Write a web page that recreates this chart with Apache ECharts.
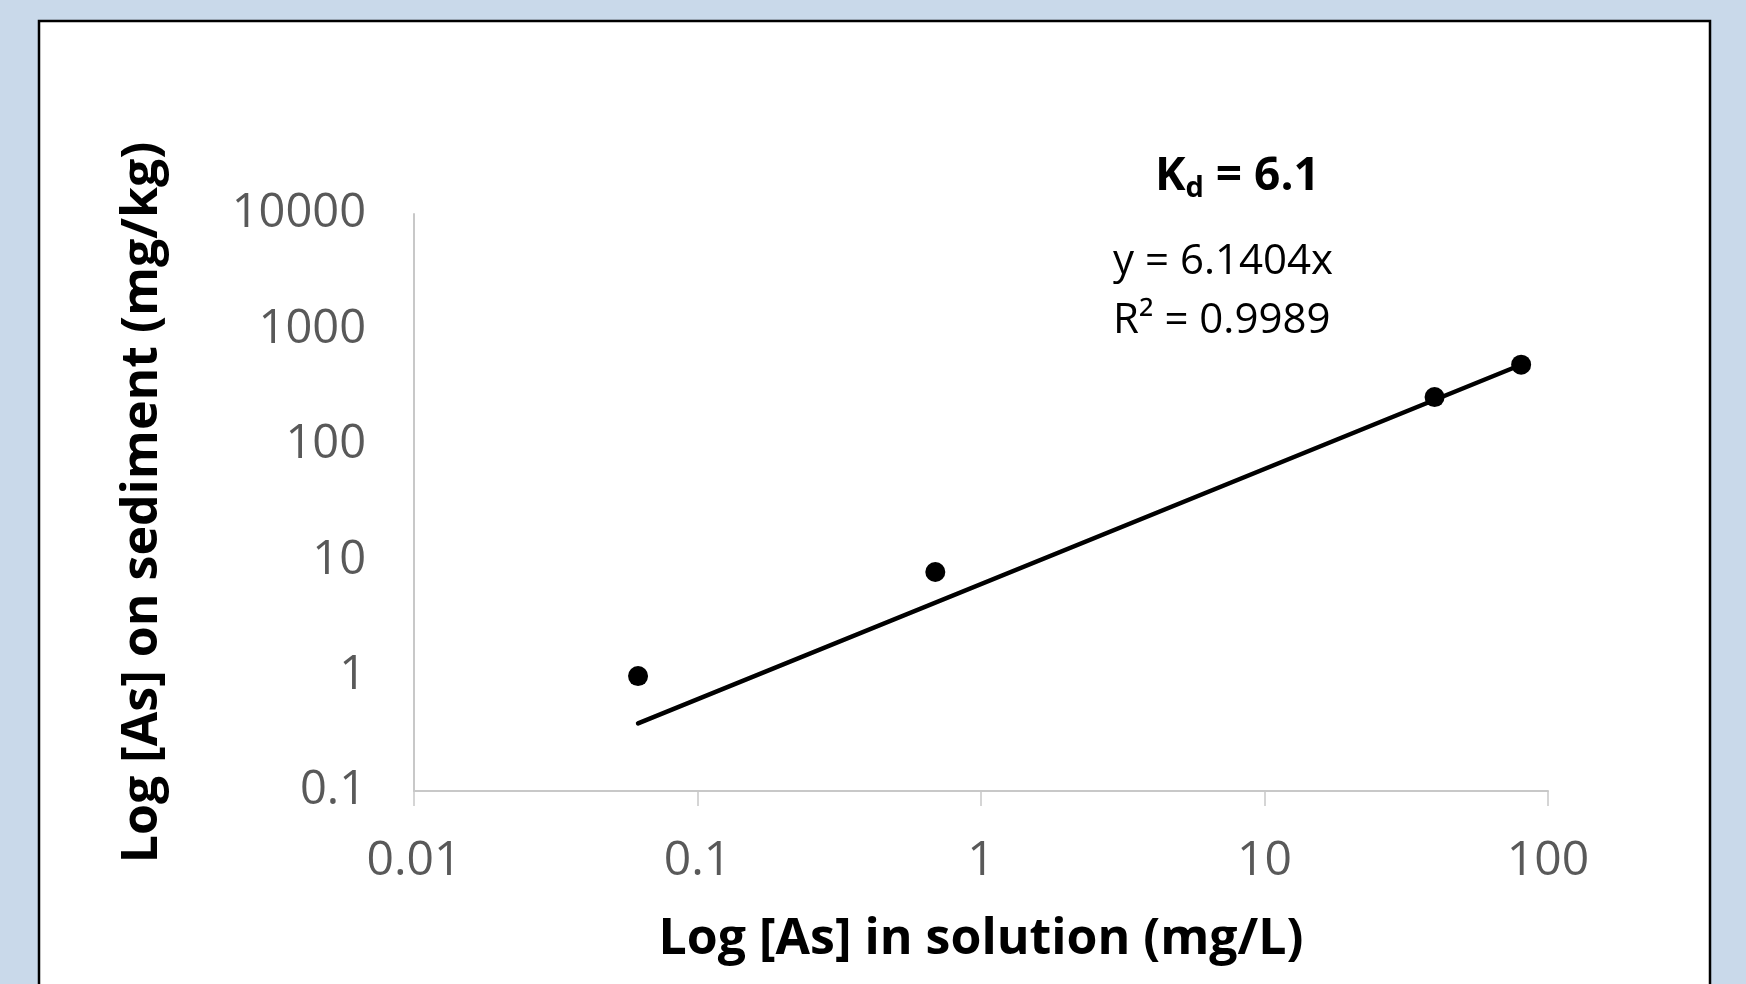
<!DOCTYPE html>
<html>
<head>
<meta charset="utf-8">
<script src="https://cdn.jsdelivr.net/npm/echarts@6/dist/echarts.min.js"></script>
<style>
html, body { margin: 0; padding: 0; background: #c9d9ea; }
#main { width: 1746px; height: 984px; }
</style>
</head>
<body>
<div id="main"></div>
<script>
// values
var solution = [0.0617, 0.69, 39.8, 80.4];   // mg/L
var sediment = [0.99, 7.9, 259, 495];        // mg/kg
var trendX = [0.0617, 80.4];
var trendY = [0.385, 494];
var eqText = 'y = 6.1404x';
var r2Text = 'R\u00b2 = 0.9989';

var font = '"Open Sans", "Noto Sans", sans-serif';

var points = solution.map(function (x, i) { return [x, sediment[i]]; });
var trend = trendX.map(function (x, i) { return [x, trendY[i]]; });

function fmt(v) { return String(parseFloat(v.toPrecision(3))); }

var chart = echarts.init(document.getElementById('main'), null, {renderer: 'canvas'});
var option = {
  backgroundColor: '#c9d9ea',
  animation: false,
  textStyle: {fontFamily: font},
  graphic: [
    {
      type: 'rect', z: -10,
      shape: {x: 39, y: 21, width: 1671, height: 1000},
      style: {fill: '#ffffff', stroke: '#000000', lineWidth: 2.5}
    },
    {
      type: 'text', left: 1155, top: 154,
      style: {
        text: '{b|K}{s|d}{b| = 6.1}',
        rich: {
          b: {fontFamily: font, fontSize: 46, fontWeight: 'bold', fill: '#000'},
          s: {fontFamily: font, fontSize: 29, fontWeight: 'bold', fill: '#000', padding: [24, 0, 0, 0]}
        }
      }
    },
    {
      type: 'text', left: 1113, top: 241,
      style: {text: eqText, fontFamily: font, fontSize: 42, fill: '#000'}
    },
    {
      type: 'text', left: 1113, top: 300,
      style: {text: r2Text, fontFamily: font, fontSize: 42, fill: '#000'}
    }
  ],
  grid: {left: 414, right: 198, top: 214, bottom: 193},
  xAxis: {
    type: 'log', logBase: 10, min: 0.01, max: 100,
    name: 'Log [As] in solution (mg/L)',
    nameLocation: 'middle', nameGap: 124,
    nameTextStyle: {fontFamily: font, fontSize: 50, fontWeight: 'bold', color: '#000'},
    axisLine: {show: true, lineStyle: {color: '#c8c8c8', width: 2}},
    axisTick: {show: true, length: 15, lineStyle: {color: '#c8c8c8', width: 1.5}},
    minorTick: {show: false},
    splitLine: {show: false},
    axisLabel: {fontFamily: font, fontSize: 48, color: '#595959', margin: 46, formatter: fmt}
  },
  yAxis: {
    type: 'log', logBase: 10, min: 0.1, max: 10000,
    name: 'Log [As] on sediment (mg/kg)',
    nameLocation: 'middle', nameGap: 246,
    nameTextStyle: {fontFamily: font, fontSize: 50, fontWeight: 'bold', color: '#000'},
    axisLine: {show: true, lineStyle: {color: '#c8c8c8', width: 2}},
    axisTick: {show: false},
    splitLine: {show: false},
    axisLabel: {fontFamily: font, fontSize: 47, color: '#595959', margin: 48, formatter: fmt}
  },
  series: [
    {
      type: 'line', data: trend, showSymbol: false, symbol: 'none',
      lineStyle: {color: '#000', width: 4.5, cap: 'round'}, z: 2
    },
    {
      type: 'scatter', data: points, symbol: 'circle', symbolSize: 20,
      itemStyle: {color: '#000', opacity: 1}, z: 3
    }
  ]
};
chart.setOption(option);
</script>
</body>
</html>
